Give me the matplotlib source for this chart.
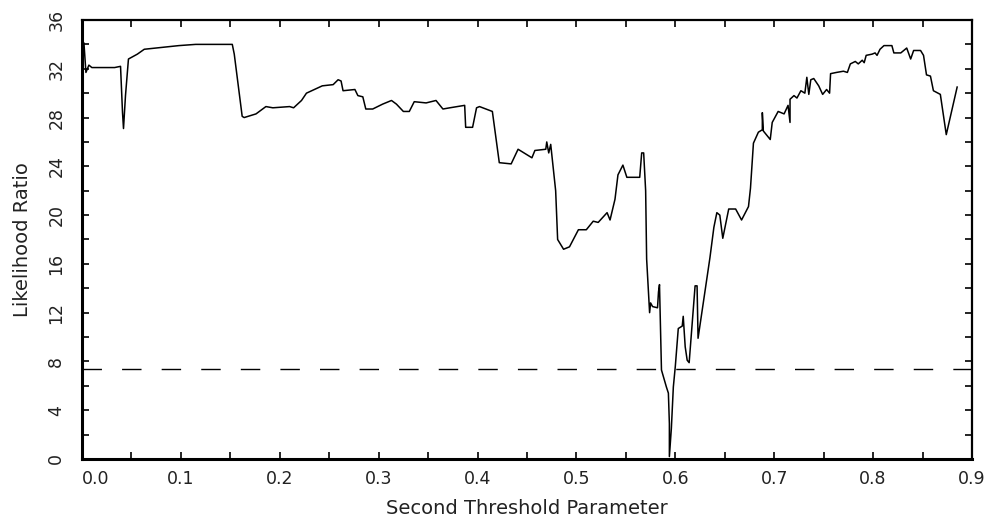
import numpy as np
import matplotlib
matplotlib.use("Agg")
import matplotlib.pyplot as plt
from matplotlib.ticker import MultipleLocator

# values
threshold = [
    0.002, 0.004, 0.007, 0.010, 0.033, 0.039, 0.041, 0.042, 0.044, 0.047,
    0.056, 0.063, 0.075, 0.098, 0.115, 0.152, 0.154, 0.162, 0.164, 0.176,
    0.186, 0.193, 0.210, 0.214, 0.222, 0.227, 0.235, 0.243, 0.254, 0.259,
    0.262, 0.264, 0.276, 0.279, 0.284, 0.287, 0.294, 0.304, 0.313, 0.318,
    0.325, 0.331, 0.336, 0.348, 0.358, 0.365, 0.372, 0.387, 0.388, 0.395,
    0.399, 0.402, 0.415, 0.422, 0.434, 0.441, 0.455, 0.458, 0.469, 0.470,
    0.472, 0.474, 0.479, 0.481, 0.487, 0.493, 0.502, 0.510, 0.517, 0.522,
    0.531, 0.534, 0.539, 0.542, 0.547, 0.551, 0.564, 0.566, 0.568, 0.570,
    0.571, 0.574, 0.575, 0.577, 0.582, 0.583, 0.584, 0.585, 0.586, 0.591,
    0.593, 0.594, 0.594, 0.596, 0.598, 0.600, 0.603, 0.607, 0.608, 0.610,
    0.612, 0.614, 0.620, 0.622, 0.623, 0.635, 0.639, 0.642, 0.645, 0.648,
    0.654, 0.661, 0.667, 0.674, 0.676, 0.679, 0.684, 0.688, 0.688, 0.689,
    0.696, 0.698, 0.704, 0.710, 0.714, 0.716, 0.716, 0.720, 0.723, 0.727,
    0.731, 0.733, 0.735, 0.737, 0.740, 0.745, 0.749, 0.753, 0.756, 0.757,
    0.763, 0.770, 0.774, 0.777, 0.782, 0.785, 0.789, 0.791, 0.793, 0.799,
    0.802, 0.804, 0.807, 0.811, 0.819, 0.821, 0.828, 0.834, 0.838, 0.841,
    0.848, 0.851, 0.854, 0.858, 0.861, 0.868, 0.874, 0.885,
]
likelihood = [
    34.1, 31.7, 32.3, 32.1, 32.1, 32.2, 28.4, 27.1, 29.8, 32.8,
    33.2, 33.6, 33.7, 33.9, 34.0, 34.0, 33.2, 28.1, 28.0, 28.3,
    28.9, 28.8, 28.9, 28.8, 29.4, 30.0, 30.3, 30.6, 30.7, 31.1,
    31.0, 30.2, 30.3, 29.8, 29.7, 28.7, 28.7, 29.1, 29.4, 29.1,
    28.5, 28.5, 29.3, 29.2, 29.4, 28.7, 28.8, 29.0, 27.2, 27.2,
    28.8, 28.9, 28.5, 24.3, 24.2, 25.4, 24.7, 25.3, 25.4, 26.0,
    25.1, 25.8, 22.0, 18.0, 17.2, 17.4, 18.8, 18.8, 19.5, 19.4,
    20.2, 19.6, 21.3, 23.3, 24.1, 23.1, 23.1, 25.1, 25.1, 22.0,
    16.4, 12.0, 12.8, 12.5, 12.4, 13.7, 14.3, 10.6, 7.3, 5.9,
    5.4, 2.9, 0.2, 2.5, 5.9, 7.6, 10.7, 10.9, 11.7, 9.2,
    8.1, 7.9, 14.2, 14.2, 9.9, 16.5, 19.0, 20.2, 20.0, 18.1,
    20.5, 20.5, 19.6, 20.7, 22.2, 25.9, 26.8, 27.0, 28.4, 26.9,
    26.2, 27.6, 28.5, 28.3, 29.0, 27.6, 29.5, 29.8, 29.6, 30.2,
    30.0, 31.3, 29.9, 31.1, 31.2, 30.6, 29.9, 30.3, 30.0, 31.6,
    31.7, 31.8, 31.7, 32.4, 32.6, 32.4, 32.7, 32.5, 33.1, 33.2,
    33.3, 33.1, 33.6, 33.9, 33.9, 33.3, 33.3, 33.7, 32.8, 33.5,
    33.5, 33.1, 31.5, 31.4, 30.2, 29.9, 26.6, 30.5,
]
critical_value = 7.38

xticks = [0.0, 0.1, 0.2, 0.3, 0.4, 0.5, 0.6, 0.7, 0.8, 0.9]
xtick_labels = ["0.0", "0.1", "0.2", "0.3", "0.4", "0.5", "0.6", "0.7", "0.8", "0.9"]
yticks = [0, 4, 8, 12, 16, 20, 24, 28, 32, 36]

plt.rcParams['font.family'] = ['DejaVu Sans']

fig = plt.figure(figsize=(9.9, 5.18), dpi=100)
ax = fig.add_axes([0.0828, 0.1139, 0.8990, 0.8475])

ax.plot(threshold, likelihood, color='black', linewidth=1.1)
ax.axhline(critical_value, color='black', linewidth=1.0, dashes=(14, 14.5))

ax.set_xlim(0, 0.9)
ax.set_ylim(0, 36)

ax.set_xticks(xticks, xtick_labels)
ax.set_yticks(yticks)
ax.xaxis.set_minor_locator(MultipleLocator(0.05))
ax.yaxis.set_minor_locator(MultipleLocator(2))

ax.tick_params(which='both', direction='in', top=True, right=True,
               length=5, width=1.2, labelsize=12.5, colors='black',
               labelcolor='#222222')
ax.tick_params(axis='x', pad=8)
ax.tick_params(axis='y', pad=12, labelrotation=90)
for lab in ax.get_yticklabels():
    lab.set_va('center')
ax.get_xticklabels()[0].set_ha('left')

for side in ['left', 'bottom']:
    ax.spines[side].set_linewidth(2.2)
for side in ['top', 'right']:
    ax.spines[side].set_linewidth(1.6)

ax.set_xlabel("Second Threshold Parameter", fontsize=14, color='#222222')
ax.set_ylabel("Likelihood Ratio", fontsize=14, color='#222222')
ax.xaxis.set_label_coords(0.5, -0.112)
ax.yaxis.set_label_coords(-0.067, 0.5)
ax.xaxis.label.set_va('center')
ax.yaxis.label.set_va('center')

fig.savefig("out.png", dpi=100)
